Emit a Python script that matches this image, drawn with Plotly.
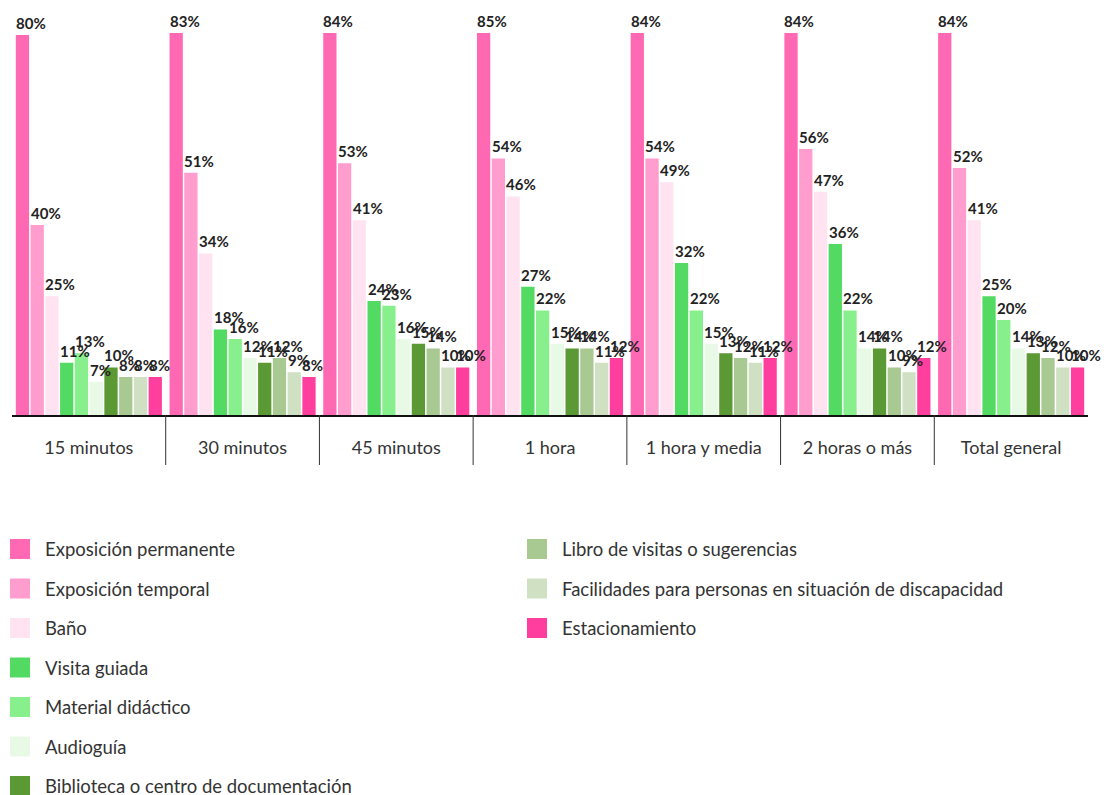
import plotly.graph_objects as go

categorias = ["15 minutos", "30 minutos", "45 minutos", "1 hora",
              "1 hora y media", "2 horas o más", "Total general"]

series = ["Exposición permanente", "Exposición temporal", "Baño", "Visita guiada",
          "Material didáctico", "Audioguía", "Biblioteca o centro de documentación",
          "Libro de visitas o sugerencias",
          "Facilidades para personas en situación de discapacidad", "Estacionamiento"]

colores = ["#FF69B4", "#FF9DCE", "#FFE3F1", "#52DA62", "#87EF8C",
           "#E8F9E6", "#5B9935", "#A9C993", "#CFE0C3", "#FF3E9E"]

exposicion_permanente = [80, 83, 84, 85, 84, 84, 84]
exposicion_temporal = [40, 51, 53, 54, 54, 56, 52]
bano = [25, 34, 41, 46, 49, 47, 41]
visita_guiada = [11, 18, 24, 27, 32, 36, 25]
material_didactico = [13, 16, 23, 22, 22, 22, 20]
audioguia = [7, 12, 16, 15, 15, 14, 14]
biblioteca = [10, 11, 15, 14, 13, 14, 13]
libro_visitas = [8, 12, 14, 14, 12, 10, 12]
facilidades = [8, 9, 10, 11, 11, 9, 10]
estacionamiento = [8, 8, 10, 12, 12, 12, 10]

valores = [exposicion_permanente, exposicion_temporal, bano, visita_guiada,
           material_didactico, audioguia, biblioteca, libro_visitas,
           facilidades, estacionamiento]

# la página añade 8px de margen al body
PAGE_OFF = 8
W, H = 1109 - PAGE_OFF, 795 - PAGE_OFF
L, T = 12 - PAGE_OFF, 33 - PAGE_OFF
R = W - (1088 - PAGE_OFF)
B = H - (415 - PAGE_OFF)
YMAX = 80.4
BARGAP = 0.04
GROUPGAP = 0.1
FONT = "Lato"

plot_w = W - L - R
plot_h = H - T - B


def px_x(px):
    return (px - PAGE_OFF - L) / plot_w


def px_y(py):
    return (H - B - (py - PAGE_OFF)) / plot_h


fig = go.Figure()
for nombre, vals, color in zip(series, valores, colores):
    fig.add_trace(go.Bar(
        x=categorias, y=vals, name=nombre,
        marker=dict(color=color, line=dict(width=0)),
        showlegend=False,
        hovertemplate="%{x}<br>" + nombre + ": %{y}%<extra></extra>",
    ))

# etiquetas de valor, alineadas al borde izquierdo de cada barra
n = len(series)
slot = (1 - BARGAP) / n
annotations = []
for j, vals in enumerate(valores):
    for i, v in enumerate(vals):
        left = i - (1 - BARGAP) / 2 + j * slot + slot * GROUPGAP / 2
        annotations.append(dict(
            x=left, y=min(v, YMAX), xref="x", yref="y",
            text=f"{v}%", showarrow=False,
            xanchor="left", yanchor="bottom", xshift=-2, yshift=1,
            font=dict(family=FONT, size=15, color="#222", weight=700),
        ))

# leyenda en dos columnas
filas = 7
for k, (nombre, color) in enumerate(zip(series, colores)):
    col, row = divmod(k, filas)
    sx = 10 if col == 0 else 527
    cy = 549 + row * 39.5
    fig.add_shape(type="rect", xref="paper", yref="paper",
                  x0=px_x(sx), x1=px_x(sx + 20), y0=px_y(cy + 10), y1=px_y(cy - 10),
                  fillcolor=color, line=dict(width=0))
    annotations.append(dict(
        x=px_x(sx + 33), y=px_y(cy), xref="paper", yref="paper",
        text=nombre, showarrow=False, xanchor="left", yanchor="middle",
        font=dict(family=FONT, size=18.5, color="#333"),
    ))

# separadores entre categorías
for i in range(1, len(categorias)):
    fig.add_shape(type="line", xref="x", yref="paper",
                  x0=i - 0.5, x1=i - 0.5, y0=0, y1=-50 / plot_h,
                  line=dict(color="#333", width=1))

fig.update_layout(
    width=W, height=H,
    margin=dict(l=L, r=R, t=T, b=B),
    barmode="group", bargap=BARGAP, bargroupgap=GROUPGAP,
    plot_bgcolor="white", paper_bgcolor="white",
    annotations=annotations,
    font=dict(family=FONT, color="#333"),
    xaxis=dict(showline=True, linecolor="#111", linewidth=1.5, ticks="",
               range=[-0.5, len(categorias) - 0.5],
               tickfont=dict(family=FONT, size=18, color="#333"),
               ticklabelstandoff=16, showgrid=False),
    yaxis=dict(range=[0, YMAX], visible=False, showgrid=False),
)

fig.write_html("out.html")
